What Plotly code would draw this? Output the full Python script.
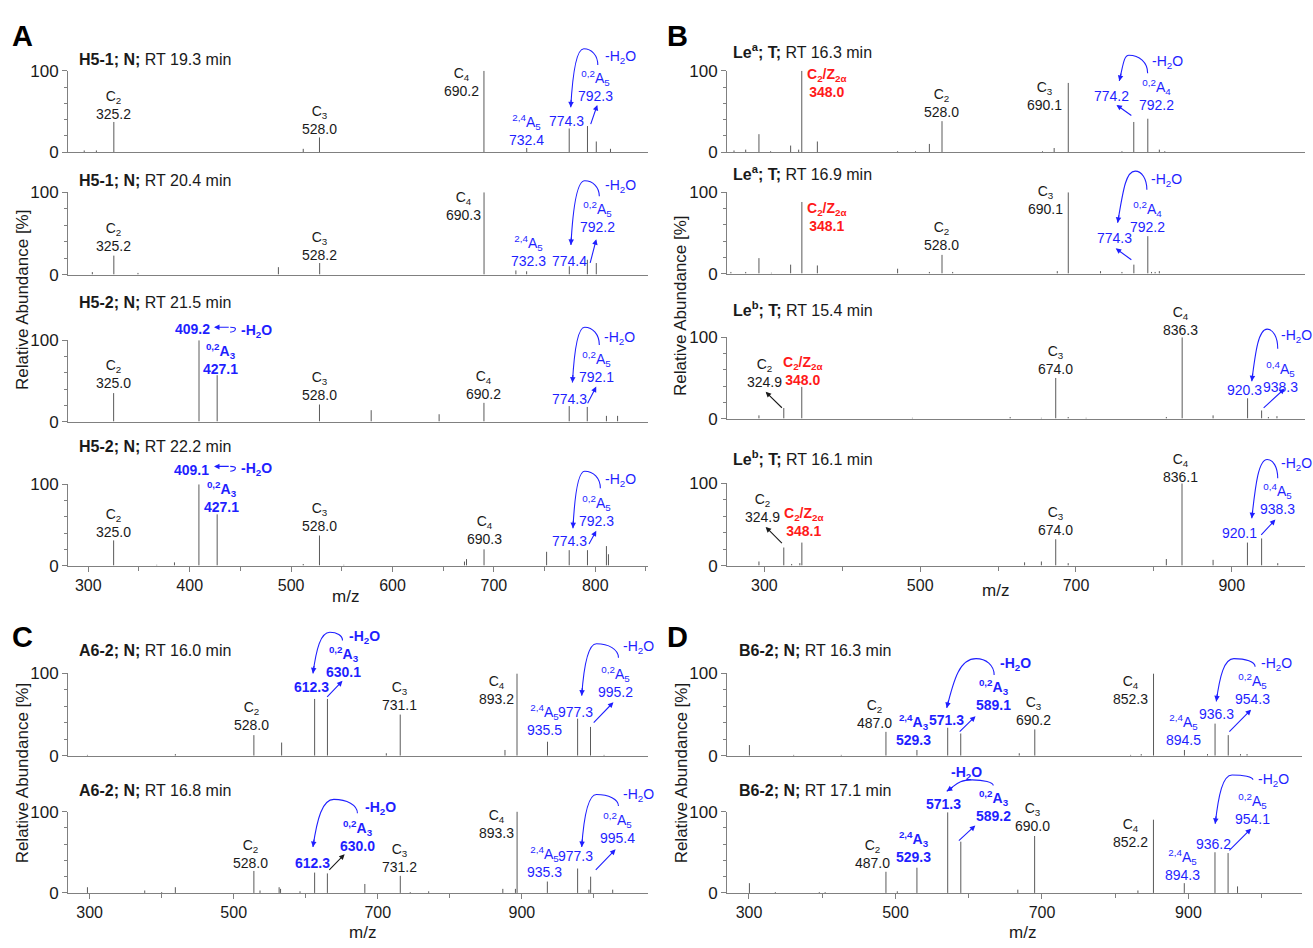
import plotly.graph_objects as go

FONT = "Liberation Sans, Arial, sans-serif"
BLUE = "#1f1fff"
RED = "#ff1a1a"
BLACK = "#1a1a1a"
GRAY = "#808080"

# ---------------- data (m/z, relative abundance %) ----------------
titles_bold = ["H5-1; N;", "H5-1; N;", "H5-2; N;", "H5-2; N;",
               "Le<sup>a</sup>; T;", "Le<sup>a</sup>; T;", "Le<sup>b</sup>; T;", "Le<sup>b</sup>; T;",
               "A6-2; N;", "A6-2; N;", "B6-2; N;", "B6-2; N;"]
titles_rt = ["RT 19.3 min", "RT 20.4 min", "RT 21.5 min", "RT 22.2 min",
             "RT 16.3 min", "RT 16.9 min", "RT 15.4 min", "RT 16.1 min",
             "RT 16.0 min", "RT 16.8 min", "RT 16.3 min", "RT 17.1 min"]

a1_mz = [296, 308, 325.2, 512, 528.0, 690.2, 732.4, 774.3, 792.3, 801, 815]
a1_ab = [2, 2, 37, 4, 18, 100, 5, 29, 32, 13, 4]
a2_mz = [304, 325.2, 349, 487.5, 528.2, 690.3, 721.7, 732.3, 774.4, 792.2, 801]
a2_ab = [3, 23, 2, 9, 14, 100, 5, 4, 10, 18, 14]
a3_mz = [325.0, 409.2, 427.1, 528.0, 579, 646, 690.2, 774.3, 792.1, 811, 822]
a3_ab = [35, 100, 57, 21, 14, 9, 23, 19, 18, 7, 7]
a4_mz = [325.0, 367.5, 385, 409.1, 427.1, 512, 528.0, 552, 671, 673, 690.3, 752, 774.3, 792.3, 811, 813]
a4_ab = [31, 1, 4, 100, 63, 2, 37, 1, 5, 8, 20, 17, 19, 19, 24, 14]

b1_mz = [261, 276, 293, 308, 333.7, 344, 348.0, 368, 471, 494, 511.8, 528.0, 657, 672, 690.1, 759, 774.2, 792.2, 807, 814]
b1_ab = [2, 3, 22, 1, 8, 3, 100, 13, 1, 1, 10, 38, 1, 5, 85, 1, 37, 41, 3, 1]
b2_mz = [257, 276, 293, 309, 333.7, 348.1, 368, 471, 511.8, 528.0, 541.7, 676, 690.1, 731.5, 759, 774.3, 792.2, 797, 801.6, 807]
b2_ab = [2, 2, 19, 1, 11, 88, 10, 6, 2, 23, 2, 3, 100, 3, 2, 11, 46, 2, 2, 3]
b3_mz = [293, 324.9, 348.0, 490, 615.5, 655.6, 674.0, 690, 713, 816, 836.3, 876, 920.3, 938.3, 947, 958]
b3_ab = [4, 13, 39, 1, 2, 1, 50, 2, 1, 2, 100, 4, 25, 10, 2, 3]
b4_mz = [293, 324.9, 335, 345.5, 348.1, 634, 655.6, 674.0, 690, 816, 836.1, 876, 920.1, 938.3, 959]
b4_ab = [5, 22, 2, 3, 28, 4, 5, 32, 3, 8, 100, 7, 28, 33, 3]

c1_mz = [297, 419, 528.0, 566.5, 612.3, 630.1, 711.8, 731.1, 876.5, 893.2, 935.5, 977.3, 995.2, 1014]
c1_ab = [1, 2, 25, 16, 69, 69, 3, 50, 7, 100, 17, 45, 35, 1]
c2_mz = [297, 376.5, 400, 419, 528.0, 536.5, 563, 565, 592, 612.3, 630.0, 682, 731.2, 745, 770.6,
         873.5, 891, 893.3, 935.3, 977.3, 993, 995.4, 1026]
c2_ab = [7, 3, 1, 7, 27, 3, 7, 5, 2, 25, 24, 11, 21, 1, 2, 5, 5, 100, 14, 30, 4, 20, 4]

d1_mz = [300.6, 361, 426, 487.0, 529.3, 571.3, 589.1, 669, 690.2, 821, 835.5, 852.3, 894.5, 926, 936.3, 954.3, 971, 980]
d1_ab = [13, 1, 1, 29, 7, 34, 27, 3, 32, 1, 2, 100, 7, 2, 39, 25, 2, 2]
d2_mz = [300.6, 336, 396, 404, 487.0, 502.5, 529.3, 571.3, 589.2, 667, 690.0, 831, 852.2, 894.3, 936.2, 954.1, 967]
d2_ab = [12, 1, 1, 1, 26, 2, 31, 99, 63, 4, 70, 3, 90, 12, 50, 49, 8]

# ---------------- layout geometry (pixels) ----------------
W, H = 1313, 948
panel_geom = {
    "A": dict(px=(68, 648), rng=(280, 852), dtick=100, minor=50),
    "B": dict(px=(727, 1305), rng=(252, 994), dtick=200, minor=100),
    "C": dict(px=(68, 648), rng=(270, 1075), dtick=200, minor=100),
    "D": dict(px=(727, 1302), rng=(270, 1055), dtick=200, minor=100),
}
rows = [
    ("A", 63, 146, False, a1_mz, a1_ab, (77, 52)),
    ("A", 187, 271, False, a2_mz, a2_ab, (77, 175)),
    ("A", 338, 421, False, a3_mz, a3_ab, (77, 299)),
    ("A", 485, 568, True, a4_mz, a4_ab, (77, 446)),
    ("B", 63, 146, False, b1_mz, b1_ab, (731, 43)),
    ("B", 187, 270, False, b2_mz, b2_ab, (731, 167)),
    ("B", 335, 418, False, b3_mz, b3_ab, (731, 306)),
    ("B", 484, 568, True, b4_mz, b4_ab, (731, 458)),
    ("C", 678, 762, False, c1_mz, c1_ab, (77, 655)),
    ("C", 819, 902, True, c2_mz, c2_ab, (77, 797)),
    ("D", 678, 762, False, d1_mz, d1_ab, (737, 655)),
    ("D", 819, 902, True, d2_mz, d2_ab, (737, 797)),
]

fig = go.Figure()
ann = []
shapes = []
GEO = {}


def xid(i):
    return "x" if i == 1 else f"x{i}"


def yid(i):
    return "y" if i == 1 else f"y{i}"


for i, (p, ytop, ybot, is_bottom, mz, ab, tpos) in enumerate(rows, start=1):
    g = panel_geom[p]
    sx = (g["px"][1] - g["px"][0]) / (g["rng"][1] - g["rng"][0])
    sy = (ybot - ytop) / 100.0
    GEO[i] = dict(px0=g["px"][0], r0=g["rng"][0], sx=sx, sy=sy, ybot=ybot)
    xs, ys = [], []
    for m, a in zip(mz, ab):
        xs += [m, m, None]
        ys += [0, a, None]
    fig.add_trace(go.Scatter(x=xs, y=ys, mode="lines", line=dict(color="#5a5a5a", width=1),
                             xaxis=xid(i), yaxis=yid(i), hoverinfo="skip", cliponaxis=False))
    xa = dict(domain=[g["px"][0] / W, g["px"][1] / W], range=list(g["rng"]), anchor=yid(i),
              showline=True, linecolor=GRAY, linewidth=1, showgrid=False, zeroline=False,
              showticklabels=is_bottom, ticks="outside" if is_bottom else "",
              tickmode="linear", tick0=300, dtick=g["dtick"], ticklen=5, tickcolor=GRAY,
              tickfont=dict(size=16, color=BLACK, family=FONT))
    if is_bottom:
        xa["minor"] = dict(dtick=g["minor"], tick0=300, ticks="outside", ticklen=4, tickcolor=GRAY)
    ya = dict(domain=[1 - ybot / H, 1 - ytop / H], range=[0, 100], anchor=xid(i),
              showline=True, linecolor=GRAY, linewidth=1, showgrid=False, zeroline=False,
              tickmode="array", tickvals=[0, 100], ticktext=["0", "100"], ticks="outside",
              ticklen=5, tickcolor=GRAY, tickfont=dict(size=17, color=BLACK, family=FONT),
              minor=dict(tickvals=[20, 40, 60, 80], ticks="outside", ticklen=3, tickcolor=GRAY))
    key = "" if i == 1 else str(i)
    fig.update_layout(**{f"xaxis{key}": xa, f"yaxis{key}": ya})
    ann.append(dict(xref="paper", yref="paper", x=tpos[0] / W, y=1 - tpos[1] / H,
                    xanchor="left", yanchor="middle", showarrow=False,
                    text=f"<b>{titles_bold[i-1]}</b> {titles_rt[i-1]}",
                    font=dict(size=16, color=BLACK, family=FONT)))


def P(i, x, y):
    """data (m/z, %) of subplot i -> paper coordinates"""
    g = GEO[i]
    px = g["px0"] + (x - g["r0"]) * g["sx"]
    py = g["ybot"] - y * g["sy"]
    return px / W, 1 - py / H


def L(i, x, y, text, color=BLACK, bold=False, xa="center", ya="bottom", size=14):
    t = f"<b>{text}</b>" if bold else text
    X, Y = P(i, x, y)
    ann.append(dict(xref="paper", yref="paper", x=X, y=Y, text=t, showarrow=False,
                    xanchor=xa, yanchor=ya, yshift=-4 if ya == "bottom" else 0,
                    font=dict(size=size, color=color, family=FONT)))


def AR(i, tx, ty, hx, hy, color=BLUE):
    X, Y = P(i, hx, hy)
    g = GEO[i]
    ann.append(dict(xref="paper", yref="paper", x=X, y=Y,
                    ax=(tx - hx) * g["sx"], ay=-(ty - hy) * g["sy"],
                    text="", showarrow=True, arrowhead=2, arrowsize=1, arrowwidth=1.1,
                    arrowcolor=color))


def head(i, ex, ey, dx, dy, color):
    g = GEO[i]
    px = dx * g["sx"]
    py = -dy * g["sy"]
    n = (px ** 2 + py ** 2) ** 0.5 or 1
    X, Y = P(i, ex, ey)
    ann.append(dict(xref="paper", yref="paper", x=X, y=Y, ax=-px / n * 9, ay=-py / n * 9,
                    text="", showarrow=True, arrowhead=2, arrowsize=1, arrowwidth=1.1,
                    arrowcolor=color))


def fmt(i, pt):
    X, Y = P(i, pt[0], pt[1])
    return f"{X:.5f},{Y:.5f}"


def CV(i, S, T, E, color=BLUE, lean=0.15):
    sx, sy = S
    tx, ty = T
    ex, ey = E
    c1 = (sx, sy + 0.6 * (ty - sy))
    c2 = (tx + 0.55 * (sx - tx), ty)
    c3 = (tx - 0.55 * (tx - ex), ty)
    c4 = (ex + lean * (tx - ex), ey + 0.6 * (ty - ey))
    path = (f"M {fmt(i, S)} C {fmt(i, c1)} {fmt(i, c2)} {fmt(i, T)} "
            f"C {fmt(i, c3)} {fmt(i, c4)} {fmt(i, E)}")
    shapes.append(dict(type="path", path=path, xref="paper", yref="paper",
                       line=dict(color=color, width=1.1)))
    head(i, ex, ey, ex - c4[0], ey - c4[1], color)


def HOOK(i, x0, x1, y, color=BLUE):
    path = (f"M {fmt(i, (x1, y))} Q {fmt(i, (x1 + 6, y))} {fmt(i, (x1 + 5, y - 3))} "
            f"Q {fmt(i, (x1 + 4, y - 6))} {fmt(i, (x1, y - 6))}")
    shapes.append(dict(type="path", path=path, xref="paper", yref="paper",
                       line=dict(color=color, width=1.1)))
    AR(i, x1, y, x0, y, color)


def C(n):
    return f"C<sub>{n}</sub>"


def A(pre, n):
    return f"<sup>{pre}</sup>A<sub>{n}</sub>"


CZ = "C<sub>2</sub>/Z<sub>2α</sub>"
H2O = "-H<sub>2</sub>O"

# ---------- A1 ----------
L(1, 325.2, 40, C(2) + "<br>325.2")
L(1, 528.0, 21, C(3) + "<br>528.0")
L(1, 687, 68, C(4) + "<br>690.2", xa="right")
L(1, 732.4, 7, A("2,4", 5) + "<br>732.4", BLUE)
L(1, 772, 31, "774.3", BLUE)
L(1, 800, 61, A("0,2", 5) + "<br>792.3", BLUE)
AR(1, 795, 33, 802, 58)
CV(1, (802.5, 107), (788.7, 127), (775.8, 55))
L(1, 808, 117, H2O, BLUE, ya="middle", xa="left")
# ---------- A2 ----------
L(2, 325.2, 28, C(2) + "<br>325.2")
L(2, 528.2, 16, C(3) + "<br>528.2")
L(2, 689, 65, C(4) + "<br>690.3", xa="right")
L(2, 734, 9, A("2,4", 5) + "<br>732.3", BLUE)
L(2, 774.4, 9, "774.4", BLUE)
L(2, 802, 51, A("0,2", 5) + "<br>792.2", BLUE)
AR(2, 794.6, 13, 801, 43)
CV(2, (804, 95), (789.6, 114), (776, 36))
L(2, 808, 107, H2O, BLUE, ya="middle", xa="left")
# ---------- A3 ----------
L(3, 325.0, 40, C(2) + "<br>325.0")
L(3, 403, 107, "409.2", BLUE, bold=True)
HOOK(3, 424, 440, 116)
L(3, 449, 111, H2O, BLUE, bold=True, xa="left", ya="middle")
L(3, 430, 57, A("0,2", 3) + "<br>427.1", BLUE, bold=True)
L(3, 528.0, 25, C(3) + "<br>528.0")
L(3, 690.2, 27, C(4) + "<br>690.2")
L(3, 774.3, 20, "774.3", BLUE)
L(3, 801, 47, A("0,2", 5) + "<br>792.1", BLUE)
AR(3, 791.7, 21, 801, 43)
CV(3, (804, 94), (789.6, 116), (777.5, 48))
L(3, 807, 103, H2O, BLUE, ya="middle", xa="left")
# ---------- A4 ----------
L(4, 325.0, 34, C(2) + "<br>325.0")
L(4, 402, 110, "409.1", BLUE, bold=True)
HOOK(4, 424, 440, 122)
L(4, 449, 119, H2O, BLUE, bold=True, xa="left", ya="middle")
L(4, 431, 65, A("0,2", 3) + "<br>427.1", BLUE, bold=True)
L(4, 528.0, 41, C(3) + "<br>528.0")
L(4, 690.3, 25, C(4) + "<br>690.3")
L(4, 774.3, 23, "774.3", BLUE)
L(4, 801, 48, A("0,2", 5) + "<br>792.3", BLUE)
AR(4, 793, 25, 801, 43)
CV(4, (805, 95), (789.6, 116), (778, 46))
L(4, 808, 105, H2O, BLUE, ya="middle", xa="left")
# ---------- B1 ----------
L(5, 352, 66, CZ + "<br>348.0", RED, bold=True, xa="left")
L(5, 528.0, 42, C(2) + "<br>528.0")
L(5, 685, 50, C(3) + "<br>690.1", xa="right")
L(5, 770.6, 62, "774.2", BLUE, xa="right")
L(5, 778.6, 50, A("0,2", 4) + "<br>792.2", BLUE, xa="left")
AR(5, 773, 44, 752, 58)
CV(5, (792, 97), (768, 119), (755.6, 87.5), lean=0.4)
L(5, 795, 111, H2O, BLUE, ya="middle", xa="left")
# ---------- B2 ----------
L(6, 352, 51, CZ + "<br>348.1", RED, bold=True, xa="left")
L(6, 528.0, 28, C(2) + "<br>528.0")
L(6, 686, 72, C(3) + "<br>690.1", xa="right")
L(6, 792, 50, A("0,2", 4) + "<br>792.2", BLUE)
L(6, 749, 36, "774.3", BLUE)
AR(6, 773, 16, 751, 31)
CV(6, (791, 103), (776, 126), (753.5, 62.5), lean=0.3)
L(6, 794, 115, H2O, BLUE, ya="middle", xa="left")
# ---------- B3 ----------
L(7, 300, 38, C(2) + "<br>324.9")
AR(7, 324.4, 12, 301.6, 33, BLACK)
L(7, 349.7, 40, CZ + "<br>348.0", RED, bold=True)
L(7, 674.0, 54, C(3) + "<br>674.0")
L(7, 833.7, 102, C(4) + "<br>836.3")
L(7, 963, 32, A("0,4", 5) + "<br>938.3", BLUE)
L(7, 916.6, 28, "920.3", BLUE)
AR(7, 939, 12, 968, 37)
CV(7, (959, 86), (945.5, 110), (925.7, 46), lean=0.25)
L(7, 961, 101, H2O, BLUE, ya="middle", xa="left")
# ---------- B4 ----------
L(8, 297, 51.6, C(2) + "<br>324.9")
AR(8, 324.4, 26, 301.6, 47, BLACK)
L(8, 350.8, 35, CZ + "<br>348.1", RED, bold=True)
L(8, 674.0, 36, C(3) + "<br>674.0")
L(8, 833.7, 100, C(4) + "<br>836.1")
L(8, 959, 61.5, A("0,4", 5) + "<br>938.3", BLUE)
L(8, 909.6, 32.5, "920.1", BLUE)
AR(8, 936, 36, 956, 56)
CV(8, (959, 106), (945.5, 129), (925.7, 57.5), lean=0.25)
L(8, 961, 123, H2O, BLUE, ya="middle", xa="left")
# ---------- C1 ----------
L(9, 525, 30, C(2) + "<br>528.0")
L(9, 608, 76, "612.3", BLUE, bold=True)
AR(9, 627.7, 70, 651, 91)
L(9, 652, 94, A("0,2", 3) + "<br>630.1", BLUE, bold=True)
L(9, 730, 54, C(3) + "<br>731.1")
L(9, 892, 62, C(4) + "<br>893.2", xa="right")
L(9, 932, 24, A("2,4", 5) + "<br>935.5", BLUE)
L(9, 974, 46, "977.3", BLUE)
L(9, 1030, 70, A("0,2", 5) + "<br>995.2", BLUE)
AR(9, 997.6, 39, 1027, 65)
CV(9, (1034, 119), (1003.5, 136), (983, 73))
L(9, 1037, 132, H2O, BLUE, ya="middle", xa="left")
CV(9, (651, 140), (633.5, 150), (610, 100), lean=0.2)
L(9, 657, 144, H2O, BLUE, bold=True, ya="middle", xa="left")
# ---------- C2 ----------
L(10, 523, 30, C(2) + "<br>528.0")
L(10, 609, 29, "612.3", BLUE, bold=True)
AR(10, 630.6, 27, 654, 47.6, BLACK)
L(10, 671.7, 50, A("0,2", 3) + "<br>630.0", BLUE, bold=True)
L(10, 730, 24, C(3) + "<br>731.2")
L(10, 892, 66.5, C(4) + "<br>893.3", xa="right")
L(10, 932, 18, A("2,4", 5) + "<br>935.3", BLUE)
L(10, 974, 38, "977.3", BLUE)
L(10, 1033, 60.5, A("0,2", 5) + "<br>995.4", BLUE)
AR(10, 1000.5, 27, 1030, 53.6)
CV(10, (1034, 107), (1003.5, 121), (983, 56.5))
L(10, 1037, 120, H2O, BLUE, ya="middle", xa="left")
CV(10, (671.7, 98), (639, 115), (610, 56.5), lean=0.2)
L(10, 680, 105, H2O, BLUE, bold=True, ya="middle", xa="left")
# ---------- D1 ----------
L(11, 472, 32, C(2) + "<br>487.0")
L(11, 524, 12, A("2,4", 3) + "<br>529.3", BLUE, bold=True)
L(11, 570, 36, "571.3", BLUE, bold=True)
AR(11, 585.6, 28, 609.3, 48)
L(11, 633.5, 54, A("0,2", 3) + "<br>589.1", BLUE, bold=True)
L(11, 688, 36, C(3) + "<br>690.2")
L(11, 848, 62, C(4) + "<br>852.3", xa="right")
L(11, 893, 12, A("2,4", 5) + "<br>894.5", BLUE)
L(11, 938, 44, "936.3", BLUE)
AR(11, 953.8, 28, 985.5, 56)
L(11, 988, 62, A("0,2", 5) + "<br>954.3", BLUE)
CV(11, (991, 108), (962, 118), (938, 66), lean=0.2)
L(11, 996, 111, H2O, BLUE, ya="middle", xa="left")
CV(11, (634.7, 98), (610, 118), (570, 58), lean=0.25)
L(11, 640, 111, H2O, BLUE, bold=True, ya="middle", xa="left")
# ---------- D2 ----------
L(12, 469, 30, C(2) + "<br>487.0")
L(12, 524, 37, A("2,4", 3) + "<br>529.3", BLUE, bold=True)
L(12, 565.4, 102, "571.3", BLUE, bold=True)
L(12, 597, 147, H2O, BLUE, bold=True, ya="middle")
CV(12, (633.5, 132), (604.7, 139), (570, 125), lean=0.4)
AR(12, 584.5, 63, 609, 83)
L(12, 633.5, 87, A("0,2", 3) + "<br>589.2", BLUE, bold=True)
L(12, 686.6, 75, C(3) + "<br>690.0")
L(12, 847, 55, C(4) + "<br>852.2", xa="right")
L(12, 892, 15, A("2,4", 5) + "<br>894.3", BLUE)
L(12, 934.7, 53, "936.2", BLUE)
AR(12, 953.8, 51, 985.5, 79)
L(12, 988, 83, A("0,2", 5) + "<br>954.1", BLUE)
CV(12, (988, 139), (959.5, 145), (936.5, 85), lean=0.2)
L(12, 992, 139, H2O, BLUE, ya="middle", xa="left")

# ---------- panel letters, axis titles ----------
for letter, (px, py) in {"A": (22, 28), "B": (677, 28), "C": (22, 641), "D": (677, 641)}.items():
    ann.append(dict(xref="paper", yref="paper", x=px / W, y=1 - py / H, text=f"<b>{letter}</b>",
                    showarrow=False, xanchor="center", yanchor="middle",
                    font=dict(size=29, color="black", family=FONT)))
for (px, py) in [(22, 297), (681, 303), (22, 780), (681, 780)]:
    ann.append(dict(xref="paper", yref="paper", x=px / W, y=1 - py / H, text="Relative Abundance [%]",
                    textangle=-90, showarrow=False, xanchor="center", yanchor="middle",
                    font=dict(size=17, color=BLACK, family=FONT)))
for (px, py) in [(345, 600), (996, 593), (362, 942), (1022, 942)]:
    ann.append(dict(xref="paper", yref="paper", x=px / W, y=1 - py / H, text="m/z",
                    showarrow=False, xanchor="center", yanchor="middle",
                    font=dict(size=17, color=BLACK, family=FONT)))

fig.update_layout(width=W, height=H, margin=dict(l=0, r=0, t=0, b=0),
                  plot_bgcolor="white", paper_bgcolor="white", showlegend=False,
                  annotations=ann, shapes=shapes, font=dict(family=FONT))
fig.write_html("out.html", config={"displayModeBar": False},
               post_script="document.body.style.margin='0';")
